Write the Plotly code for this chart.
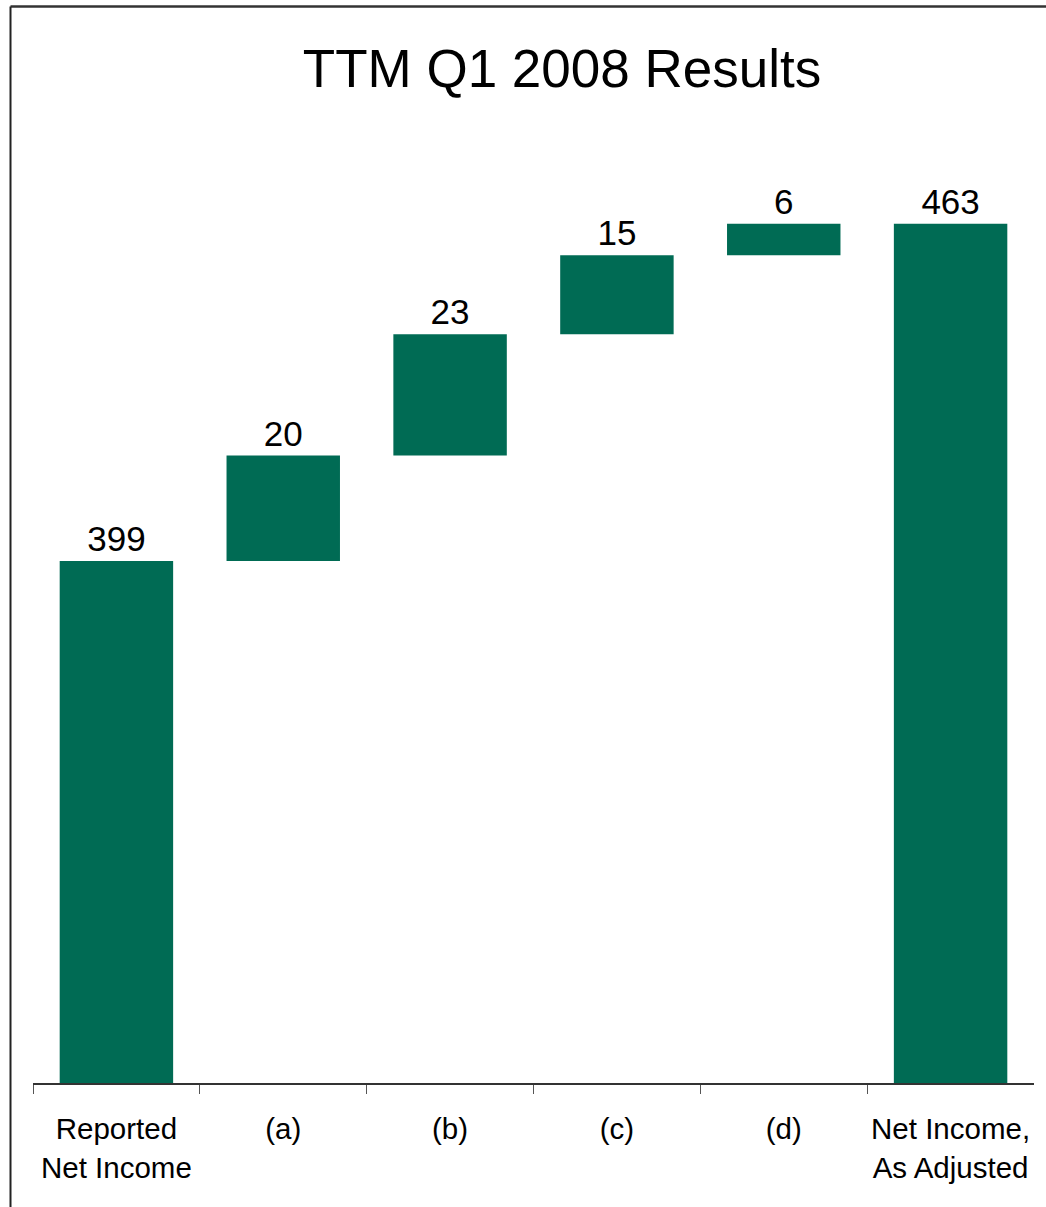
import plotly.graph_objects as go

# Waterfall bridge from reported to adjusted net income
categories = ["Reported<br>Net Income", "(a)", "(b)", "(c)", "(d)", "Net Income,<br>As Adjusted"]
steps = [399, 20, 23, 15, 6]
measures = ["absolute", "relative", "relative", "relative", "relative", "total"]
total = sum(steps)
values = steps + [0]
labels = [str(v) for v in steps] + [str(total)]

W, H = 1046, 1207
GREEN = "#006B54"
FONT = "Liberation Sans, Arial, sans-serif"

# plot area in pixels
x0, x1 = 33, 1034
y_top, y_bot = 134, 1083

fig = go.Figure(
    go.Waterfall(
        x=categories,
        y=values,
        measure=measures,
        text=labels,
        textposition="outside",
        textfont=dict(size=35, color="black", family=FONT),
        width=0.68,
        connector=dict(visible=False),
        increasing=dict(marker=dict(color=GREEN)),
        decreasing=dict(marker=dict(color=GREEN)),
        totals=dict(marker=dict(color=GREEN)),
        cliponaxis=False,
        hoverinfo="skip",
    )
)

fig.update_layout(
    width=W,
    height=H,
    margin=dict(l=0, r=0, t=0, b=0),
    paper_bgcolor="white",
    plot_bgcolor="white",
    showlegend=False,
    font=dict(family=FONT, color="black"),
    title=dict(
        text="TTM Q1 2008 Results",
        x=562 / W,
        y=1 - 68 / H,
        xref="container",
        yref="container",
        xanchor="center",
        yanchor="middle",
        font=dict(size=53, family=FONT, color="black"),
    ),
    xaxis=dict(
        domain=[x0 / W, x1 / W],
        type="category",
        showgrid=False,
        showline=True,
        linecolor="#333333",
        linewidth=1.5,
        ticks="outside",
        tickson="boundaries",
        ticklen=9,
        tickwidth=1.2,
        tickcolor="#555555",
        tickfont=dict(size=29.5, family=FONT, color="black"),
        ticklabelstandoff=19,
        automargin=False,
    ),
    yaxis=dict(
        domain=[(H - y_bot) / H, (H - y_top) / H],
        range=[300, 480],
        visible=False,
        showgrid=False,
        zeroline=False,
    ),
    shapes=[
        # frame lines along top and left
        dict(type="line", xref="paper", yref="paper",
             x0=10.5 / W, x1=1.0, y0=1 - 6.5 / H, y1=1 - 6.5 / H,
             line=dict(color="#333333", width=2.5)),
        dict(type="line", xref="paper", yref="paper",
             x0=10.5 / W, x1=10.5 / W, y0=1 - 6.5 / H, y1=0,
             line=dict(color="#222222", width=2)),
    ],
)

fig.write_html("out.html")
